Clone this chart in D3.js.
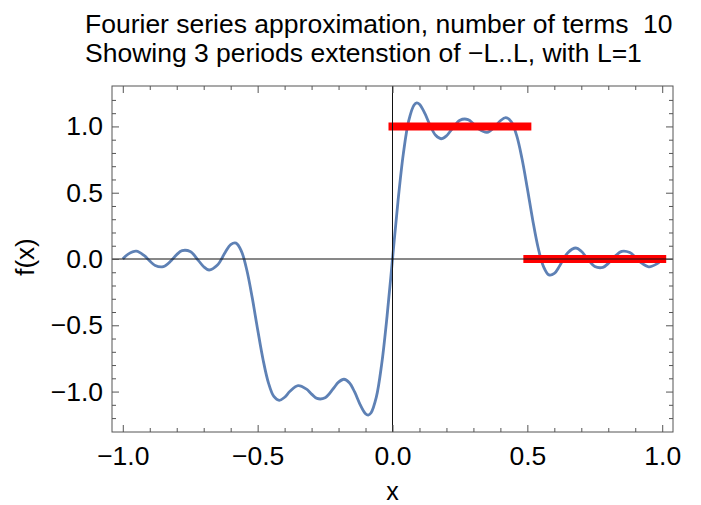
<!DOCTYPE html>
<html>
<head>
<meta charset="utf-8">
<script src="https://cdn.jsdelivr.net/npm/d3@7"></script>
<style>
  html, body { margin: 0; padding: 0; background: #fff; }
  svg { display: block; font-family: "Liberation Sans", Arial, sans-serif; }
</style>
</head>
<body>
<svg id="chart" width="701" height="505"></svg>
<script>
// ---- data ----
const curveX = [
  -1.00, -0.98, -0.95, -0.92, -0.90, -0.88, -0.85, -0.82, -0.80, -0.78, -0.75, -0.72, -0.70, -0.68, -0.65,
  -0.62, -0.60, -0.58, -0.56, -0.54, -0.52, -0.50, -0.48, -0.46, -0.44, -0.42, -0.40, -0.38, -0.35, -0.32,
  -0.30, -0.28, -0.25, -0.22, -0.20, -0.18, -0.16, -0.14, -0.12, -0.10, -0.09, -0.08, -0.06, -0.04, -0.02,
  0.00, 0.02, 0.04, 0.06, 0.08, 0.09, 0.10, 0.12, 0.14, 0.16, 0.18, 0.20, 0.22, 0.25, 0.28,
  0.30, 0.32, 0.35, 0.38, 0.40, 0.42, 0.44, 0.46, 0.48, 0.50, 0.52, 0.54, 0.56, 0.58, 0.60,
  0.62, 0.65, 0.68, 0.70, 0.72, 0.75, 0.78, 0.80, 0.82, 0.85, 0.88, 0.90, 0.92, 0.95, 0.98, 1.00
];
const curveY = [
  0.000, 0.037, 0.059, 0.025, -0.015, -0.049, -0.058, -0.011, 0.033, 0.063, 0.056, -0.010, -0.058, -0.083, -0.048,
  0.051, 0.109, 0.120, 0.058, -0.085, -0.293, -0.532, -0.758, -0.934, -1.037, -1.066, -1.043, -0.998, -0.955, -0.980,
  -1.019, -1.052, -1.047, -0.979, -0.929, -0.907, -0.933, -1.005, -1.098, -1.167, -1.177, -1.162, -1.042, -0.791, -0.428,
  0.000, 0.428, 0.791, 1.042, 1.162, 1.177, 1.167, 1.098, 1.005, 0.933, 0.907, 0.929, 0.979, 1.047, 1.052,
  1.019, 0.980, 0.955, 0.998, 1.043, 1.066, 1.037, 0.934, 0.758, 0.532, 0.293, 0.085, -0.058, -0.120, -0.109,
  -0.051, 0.048, 0.083, 0.058, 0.010, -0.056, -0.063, -0.033, 0.011, 0.058, 0.049, 0.015, -0.025, -0.059, -0.037, 0.000
];
// target function pieces (red segments): [x0, x1, value]
const segStart = [0.0, 0.5];
const segEnd   = [0.5, 1.0];
const segValue = [1.0, 0.0];

const xMajorTicks = [-1.0, -0.5, 0.0, 0.5, 1.0];
const yMajorTicks = [-1.0, -0.5, 0.0, 0.5, 1.0];
const xMinorTicks = [-0.9, -0.8, -0.7, -0.6, -0.4, -0.3, -0.2, -0.1, 0.1, 0.2, 0.3, 0.4, 0.6, 0.7, 0.8, 0.9];
const yMinorTicks = [-1.2, -1.1, -0.9, -0.8, -0.7, -0.6, -0.4, -0.3, -0.2, -0.1, 0.1, 0.2, 0.3, 0.4, 0.6, 0.7, 0.8, 0.9, 1.1, 1.2];

const titleLine1 = "Fourier series approximation, number of terms";
const titleTerms = "10";
const titleLine2 = "Showing 3 periods extenstion of \u2212L..L, with L=1";
const xLabel = "x";
const yLabel = "f(x)";

// ---- layout ----
const svg = d3.select("#chart");
const L = 112, R = 673, T = 86, B = 432;
const x = d3.scaleLinear().domain([-1.04, 1.04]).range([L, R]);
const y = d3.scaleLinear().domain([-1.305, 1.305]).range([B, T]);

const fmt = v => { const s = d3.format(".1f")(Math.abs(v)); return (v < 0 ? "\u2212" : "") + s; };

// curve
const pts = curveX.map((d, i) => [d, curveY[i]]);
svg.append("path")
  .datum(pts)
  .attr("fill", "none")
  .attr("stroke", "#5e81b5")
  .attr("stroke-width", 2.8)
  .attr("stroke-linejoin", "round")
  .attr("d", d3.line().x(d => x(d[0])).y(d => y(d[1])).curve(d3.curveCatmullRom.alpha(0.5)));

// red target segments
svg.selectAll("line.seg")
  .data(segStart.map((s, i) => ({ s, e: segEnd[i], v: segValue[i] })))
  .enter().append("line")
  .attr("class", "seg")
  .attr("x1", d => x(d.s)).attr("x2", d => x(d.e))
  .attr("y1", d => y(d.v)).attr("y2", d => y(d.v))
  .attr("stroke", "#ff0000")
  .attr("stroke-width", 8)
  .attr("stroke-linecap", "square");

// zero axes
svg.append("line").attr("x1", L).attr("x2", R).attr("y1", y(0)).attr("y2", y(0))
  .attr("stroke", "#111").attr("stroke-width", 1);
svg.append("line").attr("x1", x(0)).attr("x2", x(0)).attr("y1", T).attr("y2", B)
  .attr("stroke", "#111").attr("stroke-width", 1);

// frame axes using d3 axes (ticks inward)
const tickColor = "#555";
function styleAxis(g) {
  g.select(".domain").remove();
  g.selectAll(".tick line").attr("stroke", tickColor).attr("stroke-width", 1);
  g.selectAll(".tick text").attr("fill", "#000").style("font-size", "26.5px")
    .style("font-family", "'Liberation Sans', Arial, sans-serif");
}
// bottom
svg.append("g").attr("transform", `translate(0,${B})`)
  .call(d3.axisBottom(x).tickValues(xMajorTicks).tickFormat(fmt).tickSizeInner(-7).tickSizeOuter(0).tickPadding(14))
  .call(styleAxis);
svg.append("g").attr("transform", `translate(0,${B})`)
  .call(d3.axisBottom(x).tickValues(xMinorTicks).tickFormat("").tickSizeInner(-4).tickSizeOuter(0))
  .call(styleAxis);
// top
svg.append("g").attr("transform", `translate(0,${T})`)
  .call(d3.axisTop(x).tickValues(xMajorTicks).tickFormat("").tickSizeInner(-7).tickSizeOuter(0))
  .call(styleAxis);
svg.append("g").attr("transform", `translate(0,${T})`)
  .call(d3.axisTop(x).tickValues(xMinorTicks).tickFormat("").tickSizeInner(-4).tickSizeOuter(0))
  .call(styleAxis);
// left
svg.append("g").attr("transform", `translate(${L},0)`)
  .call(d3.axisLeft(y).tickValues(yMajorTicks).tickFormat(fmt).tickSizeInner(-7).tickSizeOuter(0).tickPadding(9))
  .call(styleAxis);
svg.append("g").attr("transform", `translate(${L},0)`)
  .call(d3.axisLeft(y).tickValues(yMinorTicks).tickFormat("").tickSizeInner(-4).tickSizeOuter(0))
  .call(styleAxis);
// right
svg.append("g").attr("transform", `translate(${R},0)`)
  .call(d3.axisRight(y).tickValues(yMajorTicks).tickFormat("").tickSizeInner(-7).tickSizeOuter(0))
  .call(styleAxis);
svg.append("g").attr("transform", `translate(${R},0)`)
  .call(d3.axisRight(y).tickValues(yMinorTicks).tickFormat("").tickSizeInner(-4).tickSizeOuter(0))
  .call(styleAxis);

// frame
svg.append("rect").attr("x", L).attr("y", T).attr("width", R - L).attr("height", B - T)
  .attr("fill", "none").attr("stroke", "#555").attr("stroke-width", 1);

// axis labels
svg.append("text").attr("x", x(0)).attr("y", 500).attr("text-anchor", "middle")
  .style("font-size", "25px").text(xLabel);
svg.append("text").attr("transform", `translate(34,257) rotate(-90)`).attr("text-anchor", "middle")
  .style("font-size", "26px").text(yLabel);

// title
svg.append("text").attr("x", 85).attr("y", 33).style("font-size", "26.5px").text(titleLine1);
svg.append("text").attr("x", 643).attr("y", 33).style("font-size", "26.5px").text(titleTerms);
svg.append("text").attr("x", 85).attr("y", 62).style("font-size", "26.5px").text(titleLine2);
</script>
</body>
</html>
